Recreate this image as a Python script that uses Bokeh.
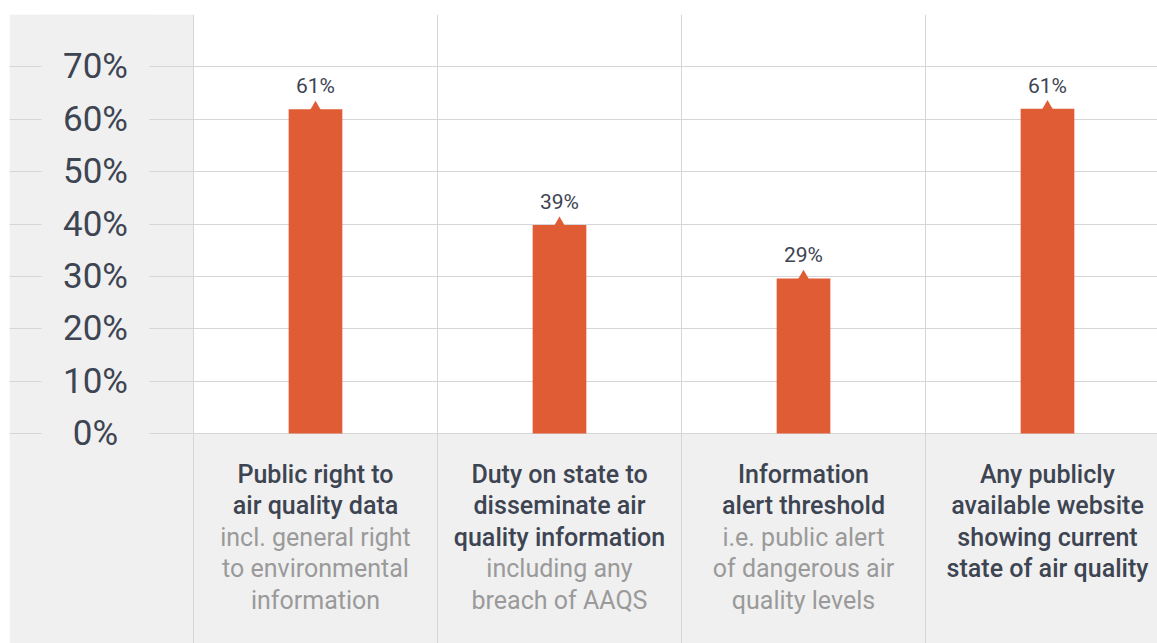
from bokeh.plotting import figure
from bokeh.models import ColumnDataSource, FixedTicker
from bokeh.core.properties import value
from bokeh.embed import file_html
from bokeh.resources import INLINE

# ---------------- data ----------------
title_lines = [
    ["Public right to", "air quality data"],
    ["Duty on state to", "disseminate air", "quality information"],
    ["Information", "alert threshold"],
    ["Any publicly", "available website", "showing current", "state of air quality"],
]
note_lines = [
    ["incl. general right", "to environmental", "information"],
    ["including any", "breach of AAQS"],
    ["i.e. public alert", "of dangerous air", "quality levels"],
    [],
]
shares = [61.9, 39.8, 29.6, 62.0]
share_labels = ["61%", "39%", "29%", "61%"]
y_ticks = [0, 10, 20, 30, 40, 50, 60, 70]
y_tick_labels = ["0%", "10%", "20%", "30%", "40%", "50%", "60%", "70%"]

# ---------------- layout / style ----------------
W, H = 1157, 643
PAD_L, PAD_T = 9, 14
FRAME_W, FRAME_H = W - PAD_L, H - PAD_T
CAT_PX = 244
LEFT_PX = 184
BOTTOM_PX = 210
GAP_L_PX, GAP_R_PX = 32, 140     # label gap inside the left panel (from panel edge)
Y_TOP = 80
px_per_unit = (FRAME_H - BOTTOM_PX) / Y_TOP
x_start = -LEFT_PX / CAT_PX
x_end = x_start + FRAME_W / CAT_PX
y_start = -BOTTOM_PX / px_per_unit
gap_l = x_start + GAP_L_PX / CAT_PX
gap_r = x_start + GAP_R_PX / CAT_PX

BAR = "#e05c34"
PANEL = "#f0f0f0"
GRID = "#d6d6d6"
DARK = "#3d4452"
GREY = "#9a9a9a"
FONT = value("Roboto")

p = figure(width=W, height=H, output_backend="svg", toolbar_location=None,
           x_range=(x_start, x_end), y_range=(y_start, Y_TOP),
           x_axis_location=None, y_axis_location=None,
           min_border_left=PAD_L, min_border_top=PAD_T,
           min_border_right=0, min_border_bottom=0)
p.outline_line_color = None
p.background_fill_color = "white"
p.border_fill_color = "white"

n = len(shares)
centers = [i + 0.5 for i in range(n)]

# grids (category dividers and percentage lines)
p.xgrid.ticker = FixedTicker(ticks=list(range(n)))
p.ygrid.ticker = FixedTicker(ticks=y_ticks)
p.grid.grid_line_color = GRID
p.grid.grid_line_width = 1

# grey panels (below grid)
p.quad(left=[x_start, 0], right=[0, x_end], bottom=[y_start, y_start], top=[Y_TOP, 0],
       fill_color=PANEL, line_color=None, level="image")

# gap in grid lines behind the y tick labels
p.quad(left=[gap_l], right=[gap_r], bottom=[y_start], top=[Y_TOP],
       fill_color=PANEL, line_color=None)

# y tick labels
tick_x = (gap_l + gap_r) / 2
p.text(x=[tick_x] * len(y_ticks), y=y_ticks, text=y_tick_labels,
       text_align="center", text_baseline="middle",
       text_font=FONT, text_font_size="35px", text_color=DARK)

# bars
src = ColumnDataSource(dict(x=centers, top=shares, lab=share_labels))
p.vbar(x="x", top="top", bottom=0, width=0.22, source=src,
       fill_color=BAR, line_color=None)
p.scatter(x="x", y="top", marker="triangle", size=15, source=src,
          fill_color=BAR, line_color=None)
p.text(x="x", y="top", text="lab", source=src, y_offset=-23,
       text_align="center", text_baseline="middle",
       text_font=FONT, text_font_size="21px", text_color=DARK)

# category labels
LINE0, STEP = 40.5, 31.5
tx, tt, to = [], [], []
nx, nt, no = [], [], []
for c, tl, nl in zip(centers, title_lines, note_lines):
    for i, s in enumerate(tl):
        tx.append(c); tt.append(s); to.append(LINE0 + i * STEP)
    for j, s in enumerate(nl):
        nx.append(c); nt.append(s); no.append(LINE0 + (len(tl) + j) * STEP)

p.text(x=tx, y=[0] * len(tx), text=tt, y_offset=to,
       text_align="center", text_baseline="middle",
       text_font=value("Roboto Medium"), text_font_size="25px", text_color=DARK)
p.text(x=nx, y=[0] * len(nx), text=nt, y_offset=no,
       text_align="center", text_baseline="middle",
       text_font=FONT, text_font_size="25px", text_color=GREY)

open("out.html", "w").write(file_html(p, INLINE))
